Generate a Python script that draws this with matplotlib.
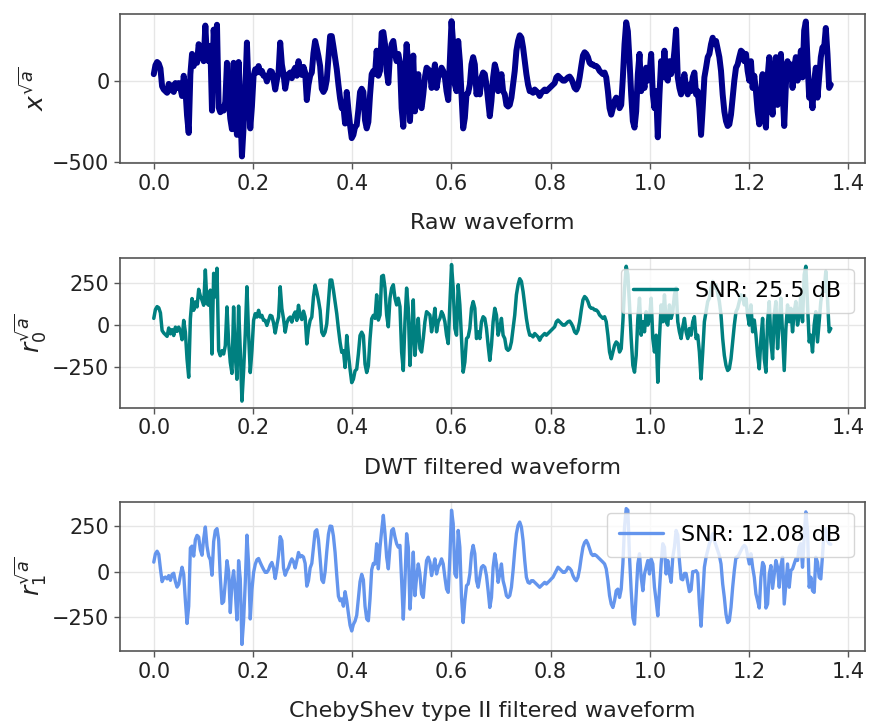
import numpy as np
import matplotlib
matplotlib.use("Agg")
import matplotlib.pyplot as plt

# ---------------- data ----------------
fs_step = 0.0033535  # time between read samples (s)

raw_wave = [
    45, 100, 120, 110, 80, -30, -50, -60, -70, -15, -55, -25, -65, -10, -40, -10, -40, -90, 35, -45,
    -210, -318, 45, 170, 95, 145, 115, 230, 180, 155, 125, 345, 135, 125, 220, -180, 320, 175, 350, -160,
    -190, -160, -180, -125, 115, -105, -230, -295, 115, -190, -330, 120, -155, -463, -280, -55, 240, -55, -290, -155,
    35, 75, 55, 95, 55, 65, 35, 35, 0, 35, 65, 60, 15, -50, 10, 55, 240, 105, 45, -45,
    15, 45, 55, 20, 65, 85, 35, 125, 60, 40, 90, 55, -115, -20, 35, 55, 175, 250, 205, 155,
    95, -45, -65, -45, 10, 145, 280, 280, 215, 145, 75, -20, -105, -165, -155, -260, -65, -175, -270, -350,
    -330, -280, -270, -175, -65, -45, -65, -240, -290, -250, -85, 45, 65,
    45, 190, 35, 65, 300, 305, 230, 65, -10, 170, 230, 250, 170, 125, 170, 115, -165, -280, 25, 230,
    105, -245, -60, 160, -185, -60, 45, -145, -165, -80, 25, 85, 75, 65, -40, 25, 105, -40, 25, 45,
    85, 65, 25, -60, -115, 125, 372, 230, -20, -60, 250, 125, -80, -290, -225, -80, -70, -20, 105, 150,
    105, -80, -40, -80, 25, 55, 45, -20, -120, -215, -120, 25, 105, 65, -60, -20, 45, -60, -80, -145,
    -155, -145, -100, -20, 65, 190, 250, 285, 270, 210, 125, 45, -20, -60, -60, -70, -50, -60, -70, -90,
    -70, -60, -50, -60, -50, -40, -30, -20, -10, 25, 35, 25, 15, 5, 5, 15, 25, 30, 15, -10,
    -40, -50, -30, 25, 95, 160, 180, 170, 150, 115, 105, 105, 95, 95, 85, 65, 55, 45,
    55, 25, -60, -165, -205, -165, -120, -100, -110, -165, -145, 25, 230, 365, 310, 125, -80, -245, -285, -185,
    45, 170, -60, 25, -40, 85, 5, 45, 170, -80, -165, -60, -345, -80, 125, 25, 190, 25, 5, 125,
    45, 85, 190, 320, 25, -40, -80, -10, 45, -40, -80, -20, -60, 25, 55, -80, -60, -165, -330, -165,
    25, 85, 150, 170, 230, 270, 230, 250, 200, 150, 65, -80, -185, -245, -275, -265, -205, -100, 5, 85,
    105, 150, 190, 180, 125, 170, 65, 5, 125, -40, 35, -60, -185, -265, -80, 45, -205, -285, 25, 150,
    -100, -205, 65, 150, -145, 25, 170, -60, -275, -20, 125, 25, 105, -40, 85, 150, 5, 65, 190, 25,
    315, 370, 125, -100, -60, -165, 5, 85, -100, 25, 150, 210, 210, 330, 170, -40, -20,
]

dwt_wave = [
    42, 95, 112, 105, 75, -30, -45, -55, -65, -15, -50, -25, -60, -10, -35, -10, -35, -85, 30, -40,
    -200, -308, 40, 160, 90, 140, 110, 215, 175, 150, 120, 330, 130, 120, 210, -170, 310, 170, 340, -150,
    -180, -150, -170, -120, 110, -100, -220, -285, 110, -180, -320, 115, -150, -450, -270, -50, 230, -50, -280, -150,
    30, 70, 50, 90, 50, 60, 30, 30, 0, 30, 60, 55, 15, -45, 10, 50, 230, 100, 40, -40,
    15, 40, 50, 20, 60, 80, 30, 120, 55, 35, 85, 50, -110, -20, 30, 50, 170, 240, 200, 150,
    90, -40, -60, -40, 10, 140, 270, 270, 210, 140, 70, -20, -100, -160, -150, -250, -60, -170, -260, -340,
    -320, -270, -260, -170, -60, -40, -60, -230, -280, -240, -80, 40, 60,
    42, 182, 32, 62, 292, 298, 222, 62, -8, 162, 222, 242, 162, 122, 162, 112, -158, -268, 22, 222,
    102, -238, -58, 152, -178, -58, 42, -138, -158, -78, 22, 82, 72, 62, -38, 22, 102, -38, 22, 42,
    82, 62, 22, -58, -108, 122, 362, 222, -18, -58, 242, 122, -78, -278, -218, -78, -68, -18, 102, 142,
    102, -78, -38, -78, 22, 52, 42, -18, -118, -208, -118, 22, 102, 62, -58, -18, 42, -58, -78, -138,
    -148, -138, -98, -18, 62, 182, 242, 278, 262, 202, 122, 42, -18, -58, -58, -68, -48, -58, -68, -88,
    -68, -58, -48, -58, -48, -38, -28, -18, -8, 22, 32, 22, 12, 2, 2, 12, 22, 26, 12, -8,
    -38, -48, -28, 22, 92, 152, 172, 162, 142, 112, 102, 102, 92, 92, 82, 62, 52, 42,
    52, 22, -58, -158, -198, -158, -118, -98, -108, -158, -138, 22, 222, 352, 302, 122, -78, -238, -278, -178,
    42, 162, -58, 22, -38, 82, 2, 42, 162, -78, -158, -58, -338, -78, 122, 22, 182, 22, 2, 122,
    42, 82, 182, 222, 22, -38, -78, -8, 42, -38, -78, -18, -58, 22, 52, -78, -58, -158, -318, -158,
    22, 82, 142, 162, 222, 262, 222, 242, 192, 142, 62, -78, -178, -238, -268, -258, -198, -98, 2, 82,
    102, 142, 182, 172, 122, 162, 62, 2, 122, -38, 32, -58, -178, -258, -78, 42, -198, -278, 22, 142,
    -98, -198, 62, 142, -138, 22, 162, -58, -268, -18, 122, 22, 102, -38, 82, 142, 2, 62, 182, 22,
    302, 352, 122, -98, -58, -158, 2, 82, -98, 22, 142, 202, 202, 322, 162, -38, -18,
]

cheby_wave = [
    52, 98, 112, 95, 15, -55, -35, -30, -40, -22, -48, -15, -9, -55, -85, -70, -20, 24, -15, -160,
    -285, -190, 130, 140, 85, 175, 199, 190, 120, 90, 180, 245, 140, 85, 65, -20, 165, 225, 236, 175,
    -30, -175, -165, -60, 60, 0, -225, -60, 5, -110, -265, 60, -40, -400, -270, -60, 200, 42, -260, -100,
    -5, 40, 65, 72, 50, 30, 12, -4, -4, 10, 35, 50, 20, -38, 15, 90, 192, 170, 20, -20,
    5, 22, 50, 70, 55, 20, 60, 105, 80, 88, 80, 45, -80, -50, 20, 45, 130, 220, 230, 175,
    70, -45, -60, 0, 110, 205, 250, 248, 195, 105, -20, -135, -160, -150, -190, -110, -160, -230, -295, -326,
    -290, -272, -240, -150, -55, -15, -45, -190, -260, -270, -150, 10, 45,
    42, 153, 15, 134, 226, 309, 208, 79, 15, 134, 226, 236, 190, 153, 134, 144, -50, -261, -50, 208,
    134, -206, -68, 107, -132, -31, 42, -13, -123, -142, -31, 61, 79, 52, -22, 22, 70, -13, 24, 42,
    70, 42, -31, -96, -114, 79, 337, 263, -13, -31, 226, 134, -142, -280, -160, -77, -68, -13, 98, 144,
    98, -50, -86, -31, 24, 33, 24, -22, -105, -197, -142, 24, 98, 42, -59, -13, 42, -50, -86, -132,
    -142, -132, -86, 6, 116, 208, 254, 272, 245, 171, 61, -31, -59, -64, -50, -50, -59, -68, -77, -86,
    -77, -68, -59, -68, -59, -50, -40, -31, -13, 6, 24, 15, 6, -4, -4, 6, 24, 18, 6, -22,
    -40, -50, -31, 15, 79, 134, 160, 171, 153, 125, 98, 88, 94, 88, 79, 70, 61, 52,
    42, 15, -50, -132, -178, -197, -160, -105, -96, -142, -96, 42, 245, 346, 337, 79, -105, -252, -289, -123,
    42, 98, -31, -105, -13, 24, 61, -13, 70, 42, -86, -160, -243, -105, 42, 153, 134, -13, 61, -13,
    -59, 79, 134, 226, 200, 60, -40, -45, -10, -10, -60, -110, -100, 0, 0, 5, -10, -180, -300, -140,
    24, 79, 116, 153, 180, 208, 171, 144, 116, 88, 42, -68, -142, -234, -280, -270, -197, -86, 6, 79,
    79, 98, 116, 134, 144, 134, 88, 42, 98, 24, -31, -123, -160, -200, -30, 50, 30, -200, -178, -13,
    33, -92, -13, 61, 24, -86, 33, 79, -178, -68, 42, -86, 6, 15, 42, 70, 61, 134, 153, 24,
    190, 328, 226, -86, -31, -105, -114, 79, 52, -31, -40, 88, 226, 236, 171, 153, 150,
]

series = [
    ("Raw waveform", r"$x^{\sqrt{a}}$", raw_wave, "#00008b", None),
    ("DWT filtered waveform", r"$r_0^{\sqrt{a}}$", dwt_wave, "#008080", "SNR: 25.5 dB"),
    ("ChebyShev type II filtered waveform", r"$r_1^{\sqrt{a}}$", cheby_wave, "#6495ed", "SNR: 12.08 dB"),
]
yticks = [[-500, 0], [-250, 0, 250], [-250, 0, 250]]
xticks = [0.0, 0.2, 0.4, 0.6, 0.8, 1.0, 1.2, 1.4]

# ---------------- figure ----------------
fig = plt.figure(figsize=(8.69, 7.22), dpi=100)
positions = [
    [0.138, 0.774, 0.857, 0.206],
    [0.138, 0.435, 0.857, 0.208],
    [0.138, 0.098, 0.857, 0.207],
]
lws = [4.3, 2.5, 2.4]

for i, (xl, yl, vals, col, leg) in enumerate(series):
    ax = fig.add_axes(positions[i])
    v = np.array(vals, dtype=float)
    t = np.arange(len(v)) * fs_step
    ax.plot(t, v, color=col, lw=lws[i], label=leg, solid_joinstyle="round",
            solid_capstyle="round")
    ax.set_xticks(xticks)
    ax.set_yticks(yticks[i])
    ax.grid(True, color="#e6e6e6", lw=1.0)
    ax.set_axisbelow(True)
    for s in ax.spines.values():
        s.set_color("#555555")
        s.set_linewidth(1.2)
    ax.tick_params(labelsize=15, colors="#222222", length=4, width=1, color="#555555")
    ax.set_xlabel(xl, fontsize=16, labelpad=14, color="#222222")
    ax.set_ylabel(yl, fontsize=18, labelpad=2, color="#222222")
    if leg is not None:
        ax.legend(loc="upper right", fontsize=16, framealpha=0.8, handlelength=2.0,
                  borderpad=0.55)

fig.savefig("out.png", dpi=100)
